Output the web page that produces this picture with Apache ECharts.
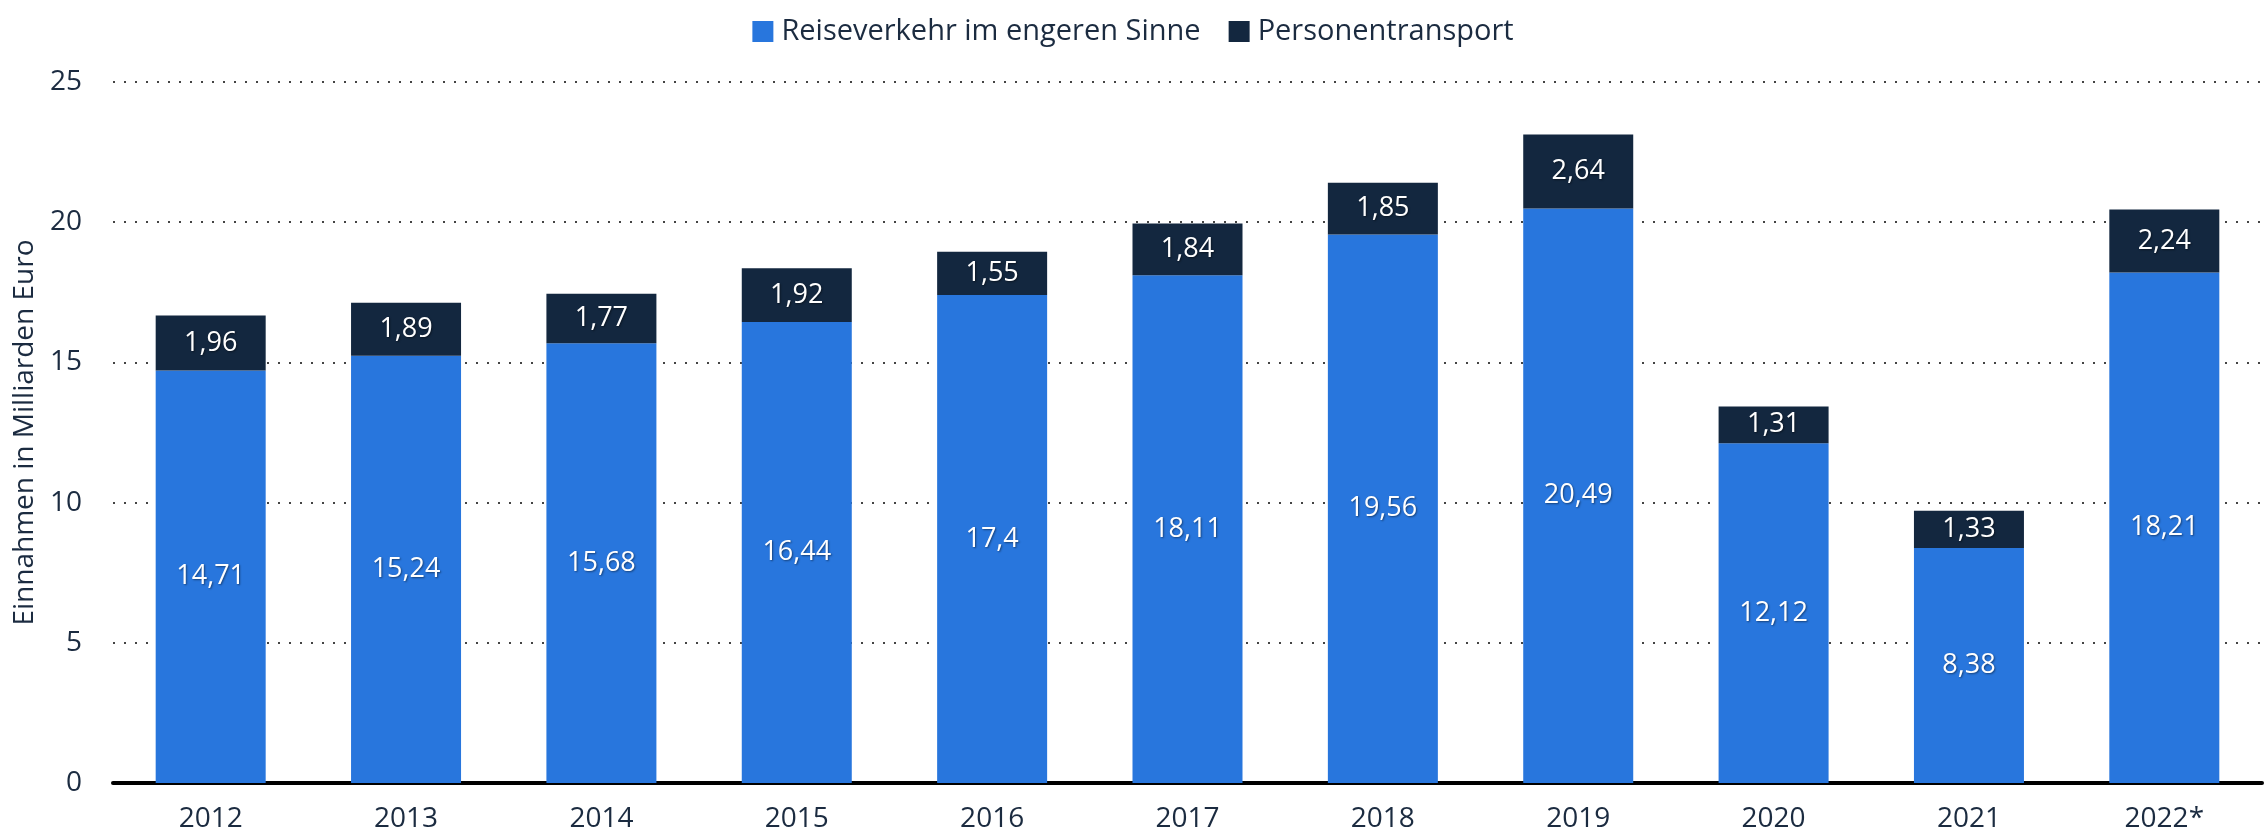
<!DOCTYPE html>
<html>
<head>
<meta charset="utf-8">
<script src="https://cdn.jsdelivr.net/npm/echarts@6/dist/echarts.min.js"></script>
<style>
  html, body { margin: 0; padding: 0; background: #fff; }
  #main { width: 2266px; height: 835px; }
</style>
</head>
<body>
<div id="main"></div>
<script>
var years = ['2012', '2013', '2014', '2015', '2016', '2017', '2018', '2019', '2020', '2021', '2022*'];
var reiseverkehr = [14.71, 15.24, 15.68, 16.44, 17.4, 18.11, 19.56, 20.49, 12.12, 8.38, 18.21];
var personentransport = [1.96, 1.89, 1.77, 1.92, 1.55, 1.84, 1.85, 2.64, 1.31, 1.33, 2.24];
var yTicks = [0, 5, 10, 15, 20, 25];

var mainChart = null;
var chartOpt = null;

function fmt(v) {
	return String(v).replace('.', ',');
}

function initChart() {
	mainChart = echarts.init(document.getElementById('main'));

	var textCol = '#1b2b40';
	var fontFam = '"Open Sans", sans-serif';

	var barLabel = {
		show: true,
		position: 'inside',
		color: '#fff',
		fontFamily: fontFam,
		fontSize: 27,
		textShadowColor: 'rgba(0,0,0,0.45)',
		textShadowBlur: 2,
		textShadowOffsetX: 1,
		textShadowOffsetY: 1,
		formatter: function (p) { return fmt(p.value); }
	};

	chartOpt = {
		animation: false,
		backgroundColor: '#fff',
		textStyle: { fontFamily: fontFam },
		legend: {
			top: 12,
			left: 'center',
			icon: 'rect',
			itemWidth: 21,
			itemHeight: 21,
			itemGap: 28,
			textStyle: { color: textCol, fontSize: 29, fontFamily: fontFam, padding: [0, 0, 0, 3] },
			data: ['Reiseverkehr im engeren Sinne', 'Personentransport']
		},
		grid: {
			left: 113,
			right: 4,
			top: 82,
			bottom: 52,
			containLabel: false
		},
		xAxis: {
			type: 'category',
			data: years,
			axisLine: { show: true, lineStyle: { color: '#000', width: 4 } },
			axisTick: { show: false },
			axisLabel: { color: textCol, fontSize: 28, fontFamily: fontFam, margin: 22 }
		},
		yAxis: {
			type: 'value',
			min: yTicks[0],
			max: yTicks[yTicks.length - 1],
			interval: 5,
			name: 'Einnahmen in Milliarden Euro',
			nameLocation: 'middle',
			nameRotate: 90,
			nameGap: 70,
			nameTextStyle: { color: textCol, fontSize: 28, fontFamily: fontFam },
			axisLine: { show: false },
			axisTick: { show: false },
			axisLabel: { color: textCol, fontSize: 28, fontFamily: fontFam, margin: 31 },
			splitLine: { show: true, lineStyle: { color: '#444', width: 2, type: [2, 9] } }
		},
		series: [
			{
				name: 'Reiseverkehr im engeren Sinne',
				type: 'bar',
				stack: 'total',
				barWidth: 110,
				itemStyle: { color: '#2876dd' },
				label: barLabel,
				data: reiseverkehr
			},
			{
				name: 'Personentransport',
				type: 'bar',
				stack: 'total',
				barWidth: 110,
				itemStyle: { color: '#13273f' },
				label: barLabel,
				data: personentransport
			}
		]
	};

	mainChart.setOption(chartOpt);
}

initChart();
</script>
</body>
</html>
